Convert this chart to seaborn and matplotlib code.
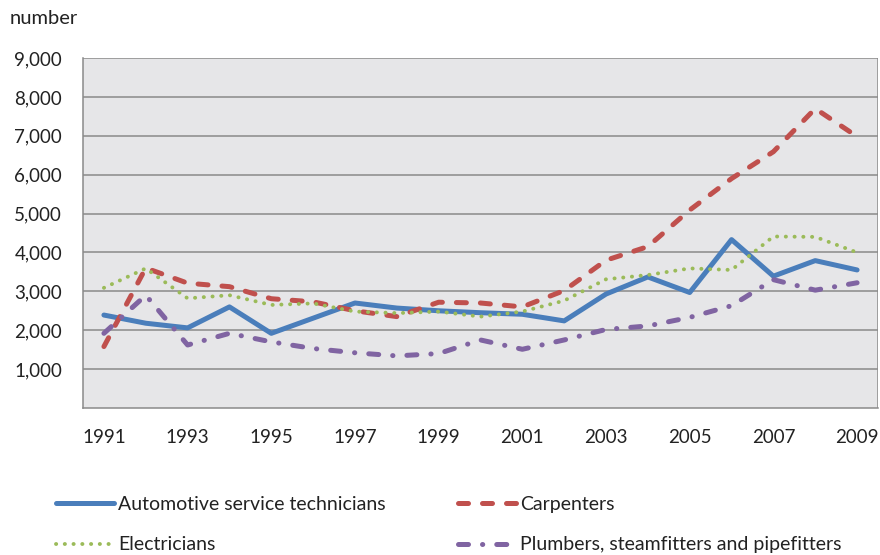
import matplotlib
matplotlib.use("Agg")
import matplotlib.pyplot as plt
from matplotlib.ticker import FixedLocator, FuncFormatter
import pandas as pd
import seaborn as sns

# Annual counts by trade, 1991-2009
years = list(range(1991, 2010))
automotive = [2390, 2180, 2060, 2600, 1920, 2310, 2700, 2570, 2500, 2450, 2410, 2240, 2930, 3370, 2970, 4330, 3390, 3790, 3550]
carpenters = [1580, 3600, 3210, 3120, 2810, 2730, 2500, 2350, 2720, 2700, 2600, 3020, 3800, 4150, 5090, 5900, 6590, 7700, 6980]
electricians = [3090, 3590, 2820, 2900, 2650, 2690, 2480, 2440, 2480, 2350, 2480, 2760, 3310, 3420, 3590, 3550, 4410, 4400, 4000]
plumbers = [1920, 2900, 1620, 1920, 1700, 1530, 1420, 1340, 1400, 1750, 1510, 1750, 2020, 2110, 2330, 2630, 3300, 3030, 3220]

series_names = ["Automotive service technicians", "Carpenters",
                "Electricians", "Plumbers, steamfitters and pipefitters"]
y_ticks = [1000, 2000, 3000, 4000, 5000, 6000, 7000, 8000, 9000]
x_labels = [1991, 1993, 1995, 1997, 1999, 2001, 2003, 2005, 2007, 2009]

df = pd.DataFrame({
    "year": years * 4,
    "value": automotive + carpenters + electricians + plumbers,
    "occupation": [n for n in series_names for _ in years],
})

palette = {
    series_names[0]: "#4a7ebb",
    series_names[1]: "#c0504d",
    series_names[2]: "#9bbb59",
    series_names[3]: "#8064a2",
}
dashes = {
    series_names[0]: "",
    series_names[1]: (2.0, 2.8),
    series_names[2]: (0.05, 2.2),
    series_names[3]: (2.0, 2.8, 0.05, 2.8),
}
widths = {
    series_names[0]: 3.6,
    series_names[1]: 3.6,
    series_names[2]: 2.8,
    series_names[3]: 3.6,
}

sns.set_style("white")
plt.rcParams["font.family"] = ["Lato", "DejaVu Sans"]
plt.rcParams["lines.dash_capstyle"] = "round"
plt.rcParams["lines.solid_capstyle"] = "round"

fig = plt.figure(figsize=(8.8, 5.55), dpi=100)
ax = fig.add_axes([83 / 880, 1 - 408 / 555, 795 / 880, 350 / 555])
ax.set_facecolor("#e6e6e8")

sns.lineplot(data=df, x="year", y="value", hue="occupation", style="occupation",
             hue_order=series_names, style_order=series_names,
             palette=palette, dashes=dashes, linewidth=3.6, legend=False, ax=ax)

for line, name in zip(ax.lines, series_names):
    line.set_linewidth(widths[name])
    line.set_label(name)
    line.set_solid_capstyle("round")
    line.set_dash_capstyle("round")
    line.set_zorder(3)

# axes ranges and grid
ax.set_xlim(1990.5, 2009.5)
ax.set_ylim(0, 9000)
ax.yaxis.set_major_locator(FixedLocator(y_ticks))
ax.yaxis.set_major_formatter(FuncFormatter(lambda v, p: f"{int(v):,}"))
ax.grid(axis="y", color="#8a8a8a", linewidth=1.1, zorder=1)
ax.grid(axis="x", visible=False)
ax.set_axisbelow(True)

# year labels centred on categories, tick marks on category boundaries
ax.xaxis.set_major_locator(FixedLocator(x_labels))
ax.xaxis.set_minor_locator(FixedLocator([1990.5 + k for k in range(20)]))
ax.tick_params(axis="x", which="major", length=0, pad=15, labelsize=13.5, colors="#222222")
ax.tick_params(axis="x", which="minor", length=5, width=1, color="#8a8a8a", direction="out")
ax.tick_params(axis="y", length=0, pad=15, labelsize=13.5, colors="#222222")

for side in ["top", "right"]:
    ax.spines[side].set_visible(False)
for side in ["left", "bottom"]:
    ax.spines[side].set_color("#8a8a8a")
    ax.spines[side].set_linewidth(1.1)
ax.axvline(2009.5, color="#8a8a8a", linewidth=1.1, zorder=1)

ax.set_xlabel("")
ax.set_ylabel("")
fig.text(10 / 880, 1 - 19 / 555, "number", fontsize=14.5, va="center", ha="left", color="#222222")

# two-column legend beneath the plot
handles = ax.lines[:4]
order = [0, 2, 1, 3]
leg = fig.legend([handles[i] for i in order], [series_names[i] for i in order],
                 ncol=2, loc="upper left", bbox_to_anchor=(56 / 880, 1 - 496 / 555),
                 frameon=False, fontsize=14, handlelength=3.0, handletextpad=0.2,
                 columnspacing=3.7, labelspacing=1.2, borderpad=0, borderaxespad=0)
for t in leg.get_texts():
    t.set_color("#222222")

fig.savefig("out.png", dpi=100)
